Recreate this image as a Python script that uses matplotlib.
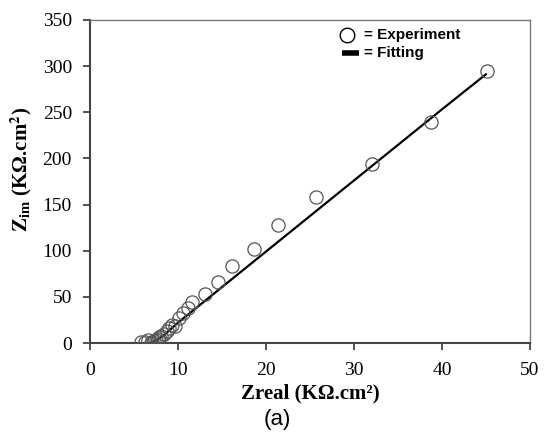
import matplotlib
matplotlib.use("Agg")
import matplotlib.pyplot as plt
from matplotlib.lines import Line2D

z_real = [5.8, 6.2, 6.6, 6.9, 7.1, 7.3, 7.5, 7.7, 7.9, 8.1, 8.4, 8.7, 9.0, 9.3,
          9.7, 10.1, 10.6, 11.1, 11.6, 13.1, 14.6, 16.1, 18.6, 21.4, 25.7,
          32.1, 38.8, 45.1]
z_im = [1, 1.5, 3, 0.5, 1, 2, 3, 4.5, 6, 8, 10, 13, 16, 19,
        18, 27, 32, 38, 44, 53, 66, 83, 102, 128, 158,
        194, 239, 295]

# Fitted curve
fit_x = [6.8, 7.6, 8.6, 10.0, 20.0, 30.0, 40.0, 45.0]
fit_y = [0, 3, 10, 22, 99, 176, 253, 291]

xticks = [0, 10, 20, 30, 40, 50]
yticks = [0, 50, 100, 150, 200, 250, 300, 350]

plt.rcParams['mathtext.fontset'] = 'stix'
serif = 'Liberation Serif'

fig = plt.figure(figsize=(5.44, 4.32), dpi=100)
ax = fig.add_axes([0.1654, 0.206, 0.8086, 0.748])

ax.plot(fit_x, fit_y, color='black', lw=1.6, zorder=2)
ax.plot(z_real, z_im, 'o', mfc='none', mec='#555555', mew=0.9, ms=9.5, zorder=3)

ax.set_xlim(0, 50)
ax.set_ylim(0, 350)
ax.set_xticks(xticks)
ax.set_yticks(yticks)
ax.tick_params(direction='out', length=5, width=1.3, color='#444444',
               labelsize=14)
ax.tick_params(axis='x', pad=9)
ax.tick_params(axis='y', pad=8)
for lab in ax.get_xticklabels() + ax.get_yticklabels():
    lab.set_fontfamily(serif)

for s in ['left', 'bottom']:
    ax.spines[s].set_color('#444444')
    ax.spines[s].set_linewidth(1.5)
for s in ['top', 'right']:
    ax.spines[s].set_color('#777777')
    ax.spines[s].set_linewidth(1.0)

ax.set_xlabel('Zreal (KΩ.cm²)', fontfamily=serif, fontweight='bold',
              fontsize=15)
ax.set_ylabel(r'$\mathbf{Z_{im}}$ (KΩ.cm$^{\mathbf{2}}$)', fontfamily=serif,
              fontweight='bold', fontsize=15)
ax.xaxis.set_label_coords(0.5, -0.126)
ax.yaxis.set_label_coords(-0.128, 0.536)

# legend drawn as text, like the original
ax.add_line(Line2D([0.584], [0.954], transform=ax.transAxes, marker='o',
                   mfc='none', mec='black', mew=1.0, ms=10.5))
ax.text(0.622, 0.954, '= Experiment', transform=ax.transAxes, fontsize=11,
        fontweight='bold', fontfamily='Liberation Sans', va='center')
ax.add_line(Line2D([0.572, 0.612], [0.898, 0.898], transform=ax.transAxes,
                   color='black', lw=4, solid_capstyle='butt'))
ax.text(0.622, 0.898, '= Fitting', transform=ax.transAxes, fontsize=11,
        fontweight='bold', fontfamily='Liberation Sans', va='center')

fig.text(0.509, 0.028, '(a)', fontfamily='Liberation Sans', fontsize=16,
         ha='center', va='center')

fig.savefig('out.png', dpi=100, facecolor='white')
